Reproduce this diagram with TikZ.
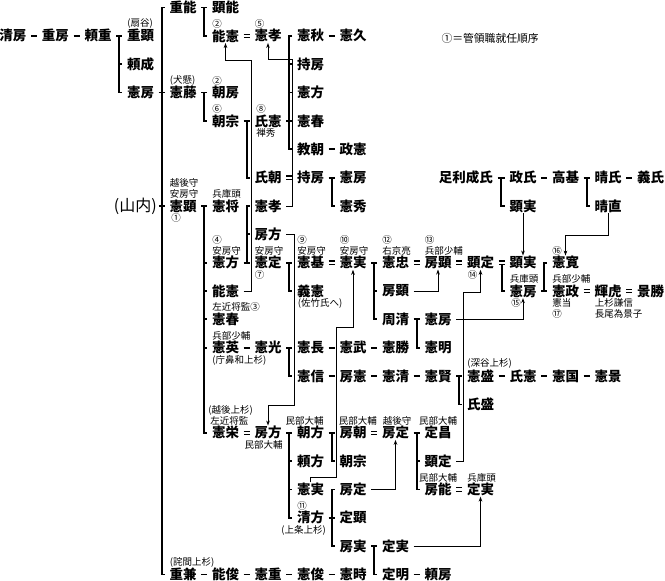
\documentclass[tikz,border=0pt]{standalone}
\usepackage{fontspec}
\setmainfont{Noto Sans CJK JP}
\usetikzlibrary{positioning, calc, arrows.meta}

\newcommand\namefont{\fontsize{13.5pt}{14pt}\selectfont}
\newcommand\tagfont{\fontsize{9.5pt}{11pt}\selectfont}

\tikzset{
  nm/.style={font=\namefont\bfseries, inner xsep=4.5pt, inner ysep=0.5pt},
  tag/.style={font=\tagfont, inner sep=0.3pt, align=left},
  ln/.style={line width=1.8pt},
  eq/.style={line width=1.1pt, double, double distance=2.2pt},
  adopt/.style={line width=0.8pt, -{Stealth[length=5pt,width=3.6pt]}},
}

\begin{document}
\begin{tikzpicture}[x=42.5pt, y=-28.35pt]
    \useasboundingbox (-0.30588,-0.26455) rectangle (15.3412,20.2293);

    \node[nm] (shigeyoshi) at (4,0) {重能};
    \node[nm] (akiyoshi) at (5,0) {顕能};

    \node[nm] (kiyofusa) at (0,1) {清房};
    \node[nm] (shigefusa) at (1,1) {重房};
    \node[nm] (yorishige) at (2,1) {頼重};
    \node[nm] (shigeaki) at (3,1) {重顕};
    \node[nm] (yoshinoriA) at (5,1) {能憲};
    \node[nm] (noritakaA) at (6,1) {憲孝};
    \node[nm] (noriakiB) at (7,1) {憲秋};
    \node[nm] (norihisa) at (8,1) {憲久};
    \node[anchor=west, font=\fontsize{10.8pt}{12pt}\selectfont] (legend) at (10,1.08) {①＝管領職就任順序};

    \node[nm] (yorinari) at (3,2) {頼成};
    \node[nm] (mochifusaA) at (7,2) {持房};

    \node[nm] (norifusaA) at (3,3) {憲房};
    \node[nm] (norifuji) at (4,3) {憲藤};
    \node[nm] (tomofusa) at (5,3) {朝房};
    \node[nm] (norikataA) at (7,3) {憲方};

    \node[nm] (tomomuneA) at (5,4) {朝宗};
    \node[nm] (ujinoriA) at (6,4) {氏憲};
    \node[nm] (noriharuA) at (7,4) {憲春};

    \node[nm] (noritomo) at (7,5) {教朝};
    \node[nm] (masanori) at (8,5) {政憲};

    \node[nm] (ujitomo) at (6,6) {氏朝};
    \node[nm] (mochifusaB) at (7,6) {持房};
    \node[nm] (norifusaB) at (8,6) {憲房};
    \node[nm, anchor=east] (shigeuji) at (11.4,6) {足利成氏};
    \node[nm] (masauji) at (12,6) {政氏};
    \node[nm] (takamoto) at (13,6) {高基};
    \node[nm] (haruuji) at (14,6) {晴氏};
    \node[nm] (yoshiuji) at (15,6) {義氏};

    \node[anchor=east, inner xsep=2pt, font=\fontsize{16pt}{16pt}\selectfont] (yamauchi) at (3.435,7) {(山内)};
    \node[nm] (noriaki) at (4,7) {憲顕};
    \node[nm] (norimasaA) at (5,7) {憲将};
    \node[nm] (noritakaB) at (6,7) {憲孝};
    \node[nm] (norihideA) at (8,7) {憲秀};
    \node[nm] (akizaneA) at (12,7) {顕実};
    \node[nm] (harunao) at (14,7) {晴直};

    \node[nm] (fusakataA) at (6,8) {房方};

    \node[nm] (norikataB) at (5,9) {憲方};
    \node[nm] (norisada) at (6,9) {憲定};
    \node[nm] (norimoto) at (7,9) {憲基};
    \node[nm] (norizaneA) at (8,9) {憲実};
    \node[nm] (noritada) at (9,9) {憲忠};
    \node[nm] (fusaakiA) at (10,9) {房顕};
    \node[nm] (akisadaA) at (11,9) {顕定};
    \node[nm] (akizaneB) at (12,9) {顕実};
    \node[nm] (norihiro) at (13,9) {憲寛};

    \node[nm] (yoshinoriB) at (5,10) {能憲};
    \node[nm] (yoshinoriC) at (7,10) {義憲};
    \node[nm] (fusaakiB) at (9,10) {房顕};
    \node[nm] (norifusaC) at (12,10) {憲房};
    \node[nm] (norimasaB) at (13,10) {憲政};
    \node[nm] (terutora) at (14,10) {輝虎};
    \node[nm] (kagekatsu) at (15,10) {景勝};

    \node[nm] (noriharuB) at (5,11) {憲春};
    \node[nm] (chikakiyo) at (9,11) {周清};
    \node[nm] (norifusaD) at (10,11) {憲房};

    \node[nm] (norihideB) at (5,12) {憲英};
    \node[nm] (norimitsu) at (6,12) {憲光};
    \node[nm] (norinaga) at (7,12) {憲長};
    \node[nm] (noritake) at (8,12) {憲武};
    \node[nm] (norikatsu) at (9,12) {憲勝};
    \node[nm] (noriakiC) at (10,12) {憲明};

    \node[nm] (norinobu) at (7,13) {憲信};
    \node[nm] (fusanori) at (8,13) {房憲};
    \node[nm] (norikiyo) at (9,13) {憲清};
    \node[nm] (norikataC) at (10,13) {憲賢};
    \node[nm] (norimori) at (11,13) {憲盛};
    \node[nm] (ujinoriB) at (12,13) {氏憲};
    \node[nm] (norikuni) at (13,13) {憲国};
    \node[nm] (norikage) at (14,13) {憲景};

    \node[nm] (ujimori) at (11,14) {氏盛};

    \node[nm] (norihideC) at (5,15) {憲栄};
    \node[nm] (fusakataB) at (6,15) {房方};
    \node[nm] (tomokata) at (7,15) {朝方};
    \node[nm] (fusatomo) at (8,15) {房朝};
    \node[nm] (fusasadaA) at (9,15) {房定};
    \node[nm] (sadamasa) at (10,15) {定昌};

    \node[nm] (yorikata) at (7,16) {頼方};
    \node[nm] (tomomuneB) at (8,16) {朝宗};
    \node[nm] (akisadaB) at (10,16) {顕定};

    \node[nm] (norizaneB) at (7,17) {憲実};
    \node[nm] (fusasadaB) at (8,17) {房定};
    \node[nm] (fusayoshi) at (10,17) {房能};
    \node[nm] (sadazaneA) at (11,17) {定実};

    \node[nm] (kiyokata) at (7,18) {清方};
    \node[nm] (sadaakiA) at (8,18) {定顕};

    \node[nm] (fusazane) at (8,19) {房実};
    \node[nm] (sadazaneB) at (9,19) {定実};

    \node[nm] (shigekane) at (4,20) {重兼};
    \node[nm] (yoshitoshi) at (5,20) {能俊};
    \node[nm] (norishige) at (6,20) {憲重};
    \node[nm] (noritoshi) at (7,20) {憲俊};
    \node[nm] (noritoki) at (8,20) {憲時};
    \node[nm] (sadaakiB) at (9,20) {定明};
    \node[nm] (yorifusa) at (10,20) {頼房};

    \node[tag, anchor=south west] (t-shigeaki) at ([xshift=4.5pt]shigeaki.north west) {(扇谷)};
    \node[tag, anchor=south west] (t-norifuji) at ([xshift=4.5pt]norifuji.north west) {(犬懸)};
    \node[tag, anchor=south west] (t-yoshinoriA) at ([xshift=4.5pt]yoshinoriA.north west) {②};
    \node[tag, anchor=south west] (t-noritakaA) at ([xshift=4.5pt]noritakaA.north west) {⑤};
    \node[tag, anchor=south west] (t-tomofusa) at ([xshift=4.5pt]tomofusa.north west) {②};
    \node[tag, anchor=south west] (t-tomomuneA) at ([xshift=4.5pt]tomomuneA.north west) {⑥};
    \node[tag, anchor=south west] (t-ujinoriA) at ([xshift=6pt]ujinoriA.north west) {⑧};
    \node[tag, anchor=north west] (b-ujinoriA) at ([xshift=6pt]ujinoriA.south west) {禅秀};
    \node[tag, anchor=south west] (t-noriaki) at ([xshift=4.5pt]noriaki.north west) {越後守\\安房守};
    \node[tag, anchor=north west] (b-noriaki) at ([xshift=6pt]noriaki.south west) {①};
    \node[tag, anchor=south west] (t-norimasaA) at ([xshift=4.5pt]norimasaA.north west) {兵庫頭};
    \node[tag, anchor=south west] (t-norikataB) at ([xshift=4.5pt]norikataB.north west) {④\\安房守};
    \node[tag, anchor=south west] (t-norisada) at ([xshift=4.5pt]norisada.north west) {安房守};
    \node[tag, anchor=north west] (b-norisada) at ([xshift=4.5pt]norisada.south west) {⑦};
    \node[tag, anchor=south west] (t-norimoto) at ([xshift=4.5pt]norimoto.north west) {⑨\\安房守};
    \node[tag, anchor=south west] (t-norizaneA) at ([xshift=4.5pt]norizaneA.north west) {⑩\\安房守};
    \node[tag, anchor=south west] (t-noritada) at ([xshift=4.5pt]noritada.north west) {⑫\\右京亮};
    \node[tag, anchor=south west] (t-fusaakiA) at ([xshift=4.5pt]fusaakiA.north west) {⑬\\兵部少輔};
    \node[tag, anchor=north west] (b-akisadaA) at ([xshift=5pt]akisadaA.south west) {⑭};
    \node[tag, anchor=south west] (t-norifusaC) at ([xshift=4.5pt]norifusaC.north west) {兵庫頭};
    \node[tag, anchor=north west] (b-norifusaC) at ([xshift=6pt]norifusaC.south west) {⑮};
    \node[tag, anchor=south west] (t-norihiro) at ([xshift=4.5pt]norihiro.north west) {⑯};
    \node[tag, anchor=south west] (t-norimasaB) at ([xshift=4.5pt]norimasaB.north west) {兵部少輔};
    \node[tag, anchor=north west] (b-norimasaB) at ([xshift=4.5pt]norimasaB.south west) {憲当\\⑰};
    \node[tag, anchor=north west] (b-terutora) at ([xshift=4.5pt]terutora.south west) {上杉謙信\\長尾為景子};
    \node[tag, anchor=north west] (b-yoshinoriC) at ([xshift=5pt]yoshinoriC.south west) {(佐竹氏へ)};
    \node[tag, anchor=south west] (t-noriharuB) at ([xshift=4.5pt]noriharuB.north west) {左近将監③};
    \node[tag, anchor=south west] (t-norihideB) at ([xshift=4.5pt]norihideB.north west) {兵部少輔};
    \node[tag, anchor=north west] (b-norihideB) at ([xshift=4.5pt]norihideB.south west) {(庁鼻和上杉)};
    \node[tag, anchor=south west] (t-norimori) at ([xshift=4.5pt]norimori.north west) {(深谷上杉)};
    \node[tag, anchor=south west] (t-norihideC) at ([xshift=0.5pt]norihideC.north west) {(越後上杉)\\\ 左近将監};
    \node[tag, anchor=north east] (b-fusakataB) at ([xshift=-3pt]fusakataB.south east) {民部大輔};
    \node[tag, anchor=south] (t-tomokata) at ([xshift=-6pt]tomokata.north) {民部大輔};
    \node[tag, anchor=south west] (t-fusatomo) at ([xshift=3.5pt]fusatomo.north west) {民部大輔};
    \node[tag, anchor=south west] (t-fusasadaA) at ([xshift=5pt]fusasadaA.north west) {越後守};
    \node[tag, anchor=south] (t-sadamasa) at (sadamasa.north) {民部大輔};
    \node[tag, anchor=south] (t-fusayoshi) at (fusayoshi.north) {民部大輔};
    \node[tag, anchor=south west] (t-sadazaneA) at ([xshift=4.5pt]sadazaneA.north west) {兵庫頭};
    \node[tag, anchor=south west] (t-kiyokata) at ([xshift=4.5pt]kiyokata.north west) {⑪};
    \node[tag, anchor=north] (b-kiyokata) at ([xshift=-7pt]kiyokata.south) {(上条上杉)};
    \node[tag, anchor=south west] (t-shigekane) at ([xshift=4.5pt]shigekane.north west) {(詫間上杉)};

    \path[ln] (kiyofusa) edge (shigefusa);
    \path[ln] (shigefusa) edge (yorishige);
    \path[ln] (yorishige) edge (shigeaki);
    \coordinate (k1) at ($(yorishige.east)!.5!(shigeaki.west)$);
    \draw[ln] (k1) |- (norifusaA.west);
    \draw[ln] (k1 |- yorinari) -- (yorinari.west);

    \path[ln] (norifusaA) edge (norifuji);
    \path[ln] (yamauchi) edge (noriaki);
    \coordinate (k2) at ($(norifusaA.east)!.5!(norifuji.west)$);
    \draw[ln] (shigeyoshi.west) -| (k2 |- shigekane) -- (shigekane.west);

    \path[ln] (shigeyoshi) edge (akiyoshi);
    \coordinate (k3) at ($(shigeyoshi.east)!.5!(akiyoshi.west)$);
    \draw[ln] (k3) |- (yoshinoriA.west);
    \draw[eq] (yoshinoriA) -- (noritakaA);

    \path[ln] (ujinoriA) edge (noriharuA);
    \coordinate (k4) at ($(ujinoriA.east)!.5!(noriharuA.west)$);
    \draw[ln] (noriakiB.west) -| (k4 |- noritomo) -- (noritomo.west);
    \draw[ln] (k4 |- mochifusaA) -- (mochifusaA.west);
    \draw[ln] (k4 |- norikataA) -- (norikataA.west);
    \path[ln] (noriakiB) edge (norihisa);
    \path[ln] (noritomo) edge (masanori);

    \path[ln] (norifuji) edge (tomofusa);
    \coordinate (k5) at ($(norifuji.east)!.5!(tomofusa.west)$);
    \draw[ln] (k5) |- (tomomuneA.west);
    \path[ln] (tomomuneA) edge (ujinoriA);
    \coordinate (k6) at ($(tomomuneA.east)!.5!(ujinoriA.west)$);
    \draw[ln] (k6) |- (ujitomo.west);
    \draw[eq] (ujitomo) -- (mochifusaB);
    \path[ln] (mochifusaB) edge (norifusaB);
    \coordinate (k7) at ($(mochifusaB.east)!.5!(norifusaB.west)$);
    \draw[ln] (k7) |- (norihideA.west);

    \path[ln] (noriaki) edge (norimasaA);
    \coordinate (k8) at ($(noriaki.east)!.5!(norimasaA.west)$);
    \draw[ln] (k8) |- (norihideC.west);
    \draw[ln] (k8 |- norikataB) -- (norikataB.west);
    \draw[ln] (k8 |- yoshinoriB) -- (yoshinoriB.west);
    \draw[ln] (k8 |- noriharuB) -- (noriharuB.west);
    \draw[ln] (k8 |- norihideB) -- (norihideB.west);

    \path[ln] (norikataB) edge (norisada);
    \coordinate (k9) at ($(norikataB.east)!.5!(norisada.west)$);
    \draw[ln] (k9) |- (noritakaB.west);
    \draw[ln] (k9 |- fusakataA) -- (fusakataA.west);
    \path[ln] (norisada) edge (norimoto);
    \coordinate (k10) at ($(norisada.east)!.5!(norimoto.west)$);
    \draw[ln] (k10) |- (yoshinoriC.west);
    \draw[eq] (norimoto) -- (norizaneA);
    \path[ln] (norizaneA) edge (noritada);
    \coordinate (k11) at ($(norizaneA.east)!.5!(noritada.west)$);
    \draw[ln] (k11) |- (chikakiyo.west);
    \draw[ln] (k11 |- fusaakiB) -- (fusaakiB.west);
    \draw[eq] (noritada) -- (fusaakiA);
    \draw[eq] (fusaakiA) -- (akisadaA);
    \draw[eq] (akisadaA) -- (akizaneB);
    \coordinate (k12) at ($(akisadaA.east)!.5!(akizaneB.west)$);
    \draw[ln] ([yshift=-2pt]k12) |- (norifusaC.west);
    \path[ln] (norifusaC) edge (norimasaB);
    \coordinate (k13) at ($(norifusaC.east)!.5!(norimasaB.west)$);
    \draw[ln] (k13) |- (norihiro.west);
    \draw[eq] (norimasaB) -- (terutora);
    \draw[eq] (terutora) -- (kagekatsu);

    \path[ln] (chikakiyo) edge (norifusaD);
    \coordinate (k14) at ($(chikakiyo.east)!.5!(norifusaD.west)$);
    \draw[ln] (k14) |- (noriakiC.west);

    \path[ln] (norihideB) edge (norimitsu);
    \path[ln] (norimitsu) edge (norinaga);
    \coordinate (k15) at ($(norimitsu.east)!.5!(norinaga.west)$);
    \draw[ln] (k15) |- (norinobu.west);
    \path[ln] (norinaga) edge (noritake);
    \path[ln] (noritake) edge (norikatsu);
    \path[ln] (norinobu) edge (fusanori);
    \path[ln] (fusanori) edge (norikiyo);
    \path[ln] (norikiyo) edge (norikataC);
    \path[ln] (norikataC) edge (norimori);
    \coordinate (k16) at ($(norikataC.east)!.5!(norimori.west)$);
    \draw[ln] (k16) |- (ujimori.west);
    \path[ln] (norimori) edge (ujinoriB);
    \path[ln] (ujinoriB) edge (norikuni);
    \path[ln] (norikuni) edge (norikage);

    \path[ln] (shigeuji) edge (masauji);
    \coordinate (k17) at ($(shigeuji.east)!.5!(masauji.west)$);
    \draw[ln] (k17) |- (akizaneA.west);
    \path[ln] (masauji) edge (takamoto);
    \path[ln] (takamoto) edge (haruuji);
    \coordinate (k18) at ($(takamoto.east)!.5!(haruuji.west)$);
    \draw[ln] (k18) |- (harunao.west);
    \path[ln] (haruuji) edge (yoshiuji);

    \draw[eq] (norihideC) -- (fusakataB);
    \path[ln] (fusakataB) edge (tomokata);
    \coordinate (k19) at ($(fusakataB.east)!.5!(tomokata.west)$);
    \draw[ln] (k19) |- (kiyokata.west);
    \draw[ln] (k19 |- yorikata) -- (yorikata.west);
    \draw[ln] (k19 |- norizaneB) -- (norizaneB.west);
    \path[ln] (tomokata) edge (fusatomo);
    \coordinate (k20) at ($(tomokata.east)!.5!(fusatomo.west)$);
    \draw[ln] (k20) |- (tomomuneB.west);
    \draw[eq] (fusatomo) -- (fusasadaA);
    \path[ln] (fusasadaA) edge (sadamasa);
    \coordinate (k21) at ($(fusasadaA.east)!.5!(sadamasa.west)$);
    \draw[ln] (k21) |- (fusayoshi.west);
    \draw[ln] (k21 |- akisadaB) -- (akisadaB.west);
    \draw[eq] (fusayoshi) -- (sadazaneA);

    \path[ln] (kiyokata) edge (sadaakiA);
    \coordinate (k22) at ($(kiyokata.east)!.5!(sadaakiA.west)$);
    \draw[ln] (fusasadaB.west) -| (k22 |- fusazane) -- (fusazane.west);
    \path[ln] (fusazane) edge (sadazaneB);
    \coordinate (k23) at ($(fusazane.east)!.5!(sadazaneB.west)$);
    \draw[ln] (k23) |- (sadaakiB.west);
    \path[ln] (sadaakiB) edge (yorifusa);

    \path[ln] (shigekane) edge (yoshitoshi);
    \path[ln] (yoshitoshi) edge (norishige);
    \path[ln] (norishige) edge (noritoshi);
    \path[ln] (noritoshi) edge (noritoki);

    \draw[adopt] (yoshinoriB.east) -| (5.62,1.85) -| (yoshinoriA.south);
    \draw[adopt] (noritakaB.east) -| (6.58,1.82) -| (noritakaA.south);
    \draw[adopt] (fusakataA.east) -| (6.61,14.02) -| (fusakataB.north);
    \draw[adopt] (norizaneB.north) |- (7.62,16.56) -- (7.62,11.27) -| (norizaneA.south);
    \draw[adopt] (fusaakiB.east) -| (fusaakiA.south);
    \draw[adopt] (akisadaB.east) -| (10.59,10.04) -| (akisadaA.south);
    \draw[adopt] (norifusaD.east) -| (norifusaC.south);
    \path[adopt] (akizaneA) edge (akizaneB);
    \draw[adopt] (harunao.south) |- (13,8.03) -- (norihiro.north);
    \draw[adopt] (fusasadaB.east) -| (fusasadaA.south);
    \draw[adopt] (sadazaneB.east) -| (sadazaneA.south);

\end{tikzpicture}
\end{document}
